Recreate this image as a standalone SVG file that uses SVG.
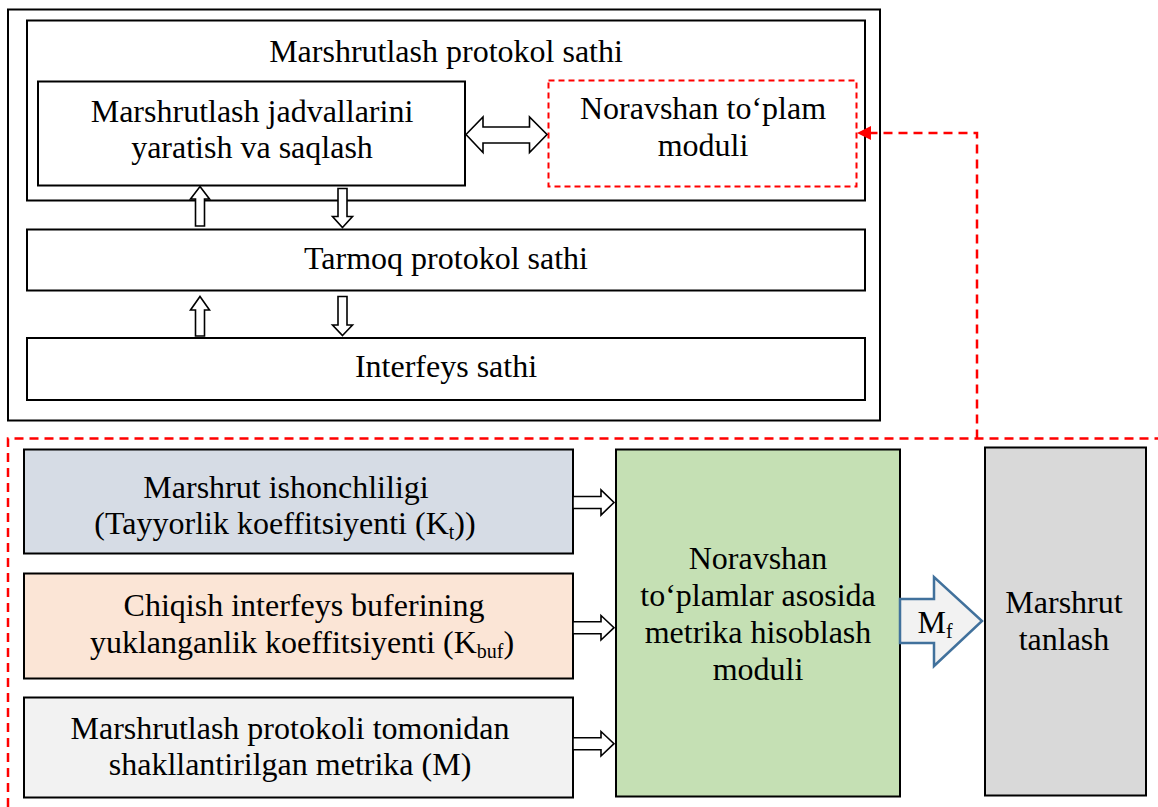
<svg xmlns="http://www.w3.org/2000/svg" width="1158" height="807" viewBox="0 0 1158 807">
<defs>
<style>
.box{stroke:#000;stroke-width:2;}
.t{font-size:32px;fill:#000;text-anchor:middle;}
.sub{font-size:20px;}
.ha{fill:#fff;stroke:#000;stroke-width:1.6;stroke-linejoin:miter;}
.rd{fill:none;stroke:#FF0000;stroke-width:2.5;stroke-dasharray:9,6;}
</style>
</defs>
<rect width="1158" height="807" fill="#fff"/>
<g font-family="Liberation Serif, serif">
<g id="outer">
<rect x="8" y="9.5" width="872" height="411" fill="none" class="box"/>
</g>
<g id="routing-layer">
<rect x="27" y="20.5" width="838" height="180" fill="#fff" class="box"/>
<text class="t" x="446" y="62" font-family="Liberation Serif">Marshrutlash protokol sathi</text>
</g>
<g id="tables">
<rect x="38" y="81.5" width="427" height="104" fill="#fff" class="box"/>
<text class="t" x="252" y="122" font-family="Liberation Serif">Marshrutlash jadvallarini</text>
<text class="t" x="252" y="158" font-family="Liberation Serif">yaratish va saqlash</text>
</g>
<g id="fuzzy-set">
<rect x="548.5" y="80.5" width="308" height="106" fill="#fff" stroke="#FF0000" stroke-width="2" stroke-dasharray="6,4"/>
<text class="t" x="703" y="119" font-family="Liberation Serif">Noravshan to‘plam</text>
<text class="t" x="703" y="156" font-family="Liberation Serif">moduli</text>
</g>
<g id="network-layer">
<rect x="27" y="229.5" width="838" height="61" fill="#fff" class="box"/>
<text class="t" x="446" y="269" font-family="Liberation Serif">Tarmoq protokol sathi</text>
</g>
<g id="interface-layer">
<rect x="27" y="338" width="838" height="62" fill="#fff" class="box"/>
<text class="t" x="446" y="377" font-family="Liberation Serif">Interfeys sathi</text>
</g>

<g id="frame">
<path class="rd" d="M8,807 L8,438.5 L1158,438.5"/>
</g>

<g id="reliability">
<rect x="24" y="449.5" width="549" height="104" fill="#D6DCE5" class="box"/>
<text class="t" x="286" y="498" font-family="Liberation Serif">Marshrut ishonchliligi</text>
<text class="t" x="285" y="534" font-family="Liberation Serif">(Tayyorlik koeffitsiyenti (K<tspan class="sub" dy="5">t</tspan><tspan dy="-5">))</tspan></text>
</g>
<g id="buffer">
<rect x="24" y="573.5" width="549" height="105" fill="#FBE5D6" class="box"/>
<text class="t" x="304" y="616" font-family="Liberation Serif">Chiqish interfeys buferining</text>
<text class="t" x="302" y="653" font-family="Liberation Serif">yuklanganlik koeffitsiyenti (K<tspan class="sub" dy="5">buf</tspan><tspan dy="-5">)</tspan></text>
</g>
<g id="metric">
<rect x="24" y="697.5" width="549" height="100" fill="#F2F2F2" class="box"/>
<text class="t" x="290" y="739" font-family="Liberation Serif">Marshrutlash protokoli tomonidan</text>
<text class="t" x="290" y="775" font-family="Liberation Serif">shakllantirilgan metrika (M)</text>
</g>
<g id="fuzzy-metric">
<rect x="616" y="449.5" width="284" height="347" fill="#C5E0B4" class="box"/>
<text class="t" x="758" y="569" font-family="Liberation Serif">Noravshan</text>
<text class="t" x="758" y="606" font-family="Liberation Serif">to‘plamlar asosida</text>
<text class="t" x="758" y="643" font-family="Liberation Serif">metrika hisoblash</text>
<text class="t" x="758" y="680" font-family="Liberation Serif">moduli</text>
</g>
<g id="route-select">
<rect x="985" y="447.5" width="161" height="348" fill="#D9D9D9" class="box"/>
<text class="t" x="1064" y="613" font-family="Liberation Serif">Marshrut</text>
<text class="t" x="1064" y="650" font-family="Liberation Serif">tanlash</text>
</g>

<g id="connectors">
<path class="ha" d="M466,134.5 L483,117 L483,127 L529.5,127 L529.5,117 L547,134.5 L529.5,152.5 L529.5,143 L483,143 L483,152.5 Z"/>
<path class="ha" d="M200,186.5 L209.5,199 L204.5,199 L204.5,226 L195.5,226 L195.5,199 L190.5,199 Z"/>
<path class="ha" d="M342.5,227.5 L352.5,216.5 L347,216.5 L347,188.5 L338,188.5 L338,216.5 L332.5,216.5 Z"/>
<path class="ha" d="M200,296.5 L209.5,310 L204.5,310 L204.5,336 L195.5,336 L195.5,310 L190.5,310 Z"/>
<path class="ha" d="M342.5,335.5 L352.5,325 L347,325 L347,296.5 L338,296.5 L338,325 L332.5,325 Z"/>
<path class="ha" d="M573,496.5 L601,496.5 L601,490 L614,502.5 L601,515 L601,508.5 L573,508.5 Z"/>
<path class="ha" d="M573,621.7 L601,621.7 L601,615.5 L614,627.7 L601,640 L601,633.7 L573,633.7 Z"/>
<path class="ha" d="M573,737.7 L601,737.7 L601,731.5 L614,743.7 L601,756 L601,749.7 L573,749.7 Z"/>
<path d="M900,599 L934,599 L934,577 L982,621 L934,666 L934,643 L900,643 Z" fill="#F2F2F2" stroke="#41719C" stroke-width="2.5"/>
<text class="t" x="935" y="633" font-family="Liberation Serif">M<tspan class="sub" dy="5">f</tspan></text>
<path class="rd" d="M977,438.5 L977,133 L870,133"/>
<path d="M857,133 L871,126 L871,140 Z" fill="#FF0000"/>
</g>
</g>
</svg>
